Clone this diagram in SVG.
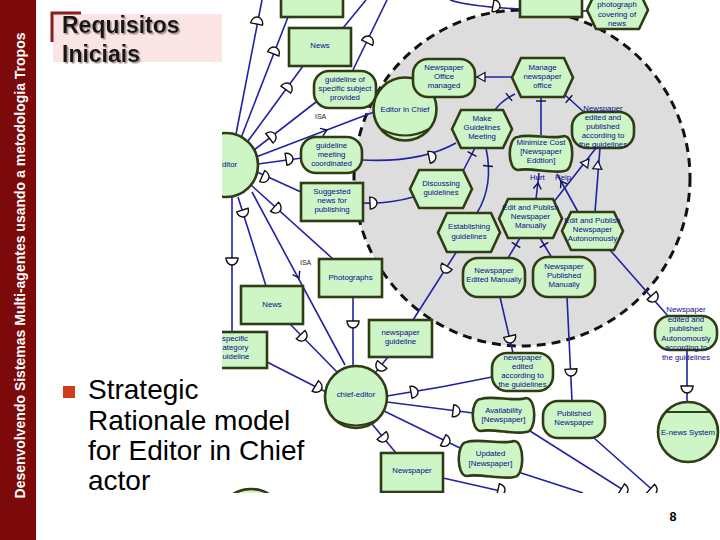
<svg xmlns="http://www.w3.org/2000/svg" width="720" height="540" viewBox="0 0 720 540">
<defs>
<style>
.n{fill:#cdf5c6;stroke:#303c14;stroke-width:2.6}
.t{font-family:"Liberation Sans",Arial,sans-serif;font-size:7.8px;fill:#0b0b8c;text-anchor:middle}
.ts{font-family:"Liberation Sans",Arial,sans-serif;font-size:7.8px;fill:#0b0b8c}
.c{fill:none;stroke:#2121a6;stroke-width:1.6}
.dm{fill:#fff;stroke:#111;stroke-width:1.4}
.tk{fill:none;stroke:#101040;stroke-width:1.4}
.me{fill:#fff;stroke:#101040;stroke-width:1.3}
.ar{fill:none;stroke:#101040;stroke-width:1.4}
.isa{font-family:"Liberation Sans",Arial,sans-serif;font-size:7px;fill:#222}
</style>
<path id="d" d="M-2,-6 L-2,6 A7,6 0 0 0 -2,-6 Z"/>
<path id="k" d="M0,-5 L0,5"/>
<path id="m" d="M0,0 L-8,-4.5 L-8,4.5 Z"/>
<path id="v" d="M-6,-4 L0,0 L-6,4"/>
<clipPath id="clip"><rect x="222" y="0" width="498" height="493"/></clipPath>
<filter id="sh" x="-10%" y="-10%" width="120%" height="130%"><feDropShadow dx="1.5" dy="1.5" stdDeviation="0.4" flood-color="#a09090"/></filter>
</defs>
<rect width="720" height="540" fill="#fff"/>
<g id="sidebar">
<rect x="0" y="0" width="36" height="540" fill="#7d0a0a"/>
<text transform="translate(25,265.5) rotate(-90)" text-anchor="middle" font-family="Liberation Sans, Arial, sans-serif" font-size="14" font-weight="bold" fill="#fff">Desenvolvendo Sistemas Multi-agentes usando a metodologia Tropos</text>
</g>
<g id="title">
<rect x="53" y="14" width="169" height="48" fill="#fbe4e4"/>
<path d="M52,42 V13 H81" fill="none" stroke="#8e1b1b" stroke-width="3"/>
<text x="62" y="33" font-family="Liberation Sans, Arial, sans-serif" font-size="23" font-weight="bold" fill="#151515" filter="url(#sh)"><tspan x="62" y="33">Requisitos</tspan><tspan x="62" y="62">Iniciais</tspan></text>
</g>
<g id="diagram" clip-path="url(#clip)">
<circle id="boundary" cx="522" cy="178" r="168" fill="#dddddd" stroke="#111" stroke-width="3" stroke-dasharray="9 6"/>
<g id="connectors">
<g class="c">
<path d="M236,134 L262,0"/>
<path d="M241,138 L288,17"/>
<path d="M248,141 L303,66"/>
<path d="M254,150 L316,102"/>
<path d="M256,157 L374,112"/>
<path d="M258,164 L302,158"/>
<path d="M257,172 L301,192"/>
<path d="M251,185 L333,259"/>
<path d="M252,192 L345,365"/>
<path d="M238,197 L266,286"/>
<path d="M232,197 L232,332"/>
<path d="M352,72 L387,0"/>
<path d="M343,28 L366,0"/>
<path d="M450,0 Q480,10 588,11"/>
<path d="M362,160 Q420,163 456,143"/>
<path d="M363,203 Q390,204 413,197"/>
<path d="M512,77 L476,77"/>
<path d="M515,94 Q502,100 494,111"/>
<path d="M541,97 L541,135"/>
<path d="M565,95 L585,113"/>
<path d="M475,148 L463,171"/>
<path d="M486,148 Q494,185 477,213"/>
<path d="M536,199 L539,173"/>
<path d="M578,212 L557,174"/>
<path d="M553,203 L596,148"/>
<path d="M595,212 L600,148"/>
<path d="M520,238 L508,258"/>
<path d="M540,238 L552,258"/>
<path d="M610,250 L668,316"/>
<path d="M687,350 L687,402"/>
<path d="M457,251 L413,320"/>
<path d="M353,297 L353,366"/>
<path d="M388,357 L375,373"/>
<path d="M289,323 L337,372"/>
<path d="M267,362 L326,392"/>
<path d="M387,396 Q440,388 492,377"/>
<path d="M387,402 L473,413"/>
<path d="M384,411 L462,449"/>
<path d="M372,424 L396,453"/>
<path d="M500,297 L513,353"/>
<path d="M567,297 L572,401"/>
<path d="M530,431 L628,493"/>
<path d="M594,438 L656,493"/>
<path d="M518,472 L583,493"/>
<path d="M443,478 L505,492"/>
</g>
<g class="dm">
<use href="#d" transform="translate(257,22) rotate(-79)"/>
<use href="#d" transform="translate(274,52) rotate(-69)"/>
<use href="#d" transform="translate(287,88) rotate(-54)"/>
<use href="#d" transform="translate(271,137) rotate(-38)"/>
<use href="#d" transform="translate(288,159) rotate(-9)"/>
<use href="#d" transform="translate(264,177) rotate(24)"/>
<use href="#d" transform="translate(276,208) rotate(42)"/>
<use href="#d" transform="translate(243,212) rotate(72)"/>
<use href="#d" transform="translate(232,260) rotate(90)"/>
<use href="#d" transform="translate(368,41) rotate(-64)"/>
<use href="#d" transform="translate(495,6) rotate(10)"/>
<use href="#d" transform="translate(431,157) rotate(-12)"/>
<use href="#d" transform="translate(372,203) rotate(-3)"/>
<use href="#d" transform="translate(653,297) rotate(49)"/>
<use href="#d" transform="translate(687,388) rotate(90)"/>
<use href="#d" transform="translate(446,268) rotate(122)"/>
<use href="#d" transform="translate(353,323) rotate(90)"/>
<use href="#d" transform="translate(381,366) rotate(129)"/>
<use href="#d" transform="translate(302,336) rotate(46)"/>
<use href="#d" transform="translate(317,387) rotate(31)"/>
<use href="#d" transform="translate(413,392) rotate(-10)"/>
<use href="#d" transform="translate(455,411) rotate(7)"/>
<use href="#d" transform="translate(445,441) rotate(26)"/>
<use href="#d" transform="translate(383,437) rotate(50)"/>
<use href="#d" transform="translate(510,338) rotate(77)"/>
<use href="#d" transform="translate(571,371) rotate(87)"/>
<use href="#d" transform="translate(623,490) rotate(32)"/>
<use href="#d" transform="translate(652,490) rotate(42)"/>
<use href="#d" transform="translate(500,490) rotate(13)"/>
</g>
<g class="tk">
<use href="#k" transform="translate(509,97) rotate(141)"/>
<use href="#k" transform="translate(541,101) rotate(90)"/>
<use href="#k" transform="translate(569,99) rotate(42)"/>
<use href="#k" transform="translate(472,154) rotate(117)"/>
<use href="#k" transform="translate(488,166) rotate(95)"/>
<use href="#k" transform="translate(516,245) rotate(121)"/>
<use href="#k" transform="translate(544,245) rotate(59)"/>
</g>
<g class="me">
<use href="#m" transform="translate(477,77) rotate(180)"/>
<use href="#m" transform="translate(589,159) rotate(-52)"/>
<use href="#m" transform="translate(598,161) rotate(-85)"/>
</g>
<g class="ar">
<use href="#v" transform="translate(538,183) rotate(-83)"/>
<use href="#v" transform="translate(561,181) rotate(-120)"/>
<use href="#v" transform="translate(327,130) rotate(-21)"/>
<use href="#v" transform="translate(299,278) rotate(62)"/>
</g>
<text class="ts" x="530" y="180">Hurt</text>
<text class="ts" x="555" y="180">Help</text>
<text class="isa" x="315" y="119">ISA</text>
<text class="isa" x="300" y="265">ISA</text>
</g>
<g id="nodes">
<g id="n_editor_left"><circle class="n" cx="226" cy="165" r="32"/><text class="ts" x="222" y="167">ditor</text></g>
<g id="n_topbox1"><rect class="n" x="281" y="-20" width="62" height="37"/></g>
<g id="n_topbox2"><rect class="n" x="520" y="-20" width="62" height="37"/></g>
<g id="n_news_top"><rect class="n" x="289" y="28" width="62" height="38"/><text class="t" x="320" y="48">News</text></g>
<g id="n_photo_cov"><polygon class="n" points="587,10 596,-9 639,-9 648,10 639,29 596,29"/><text class="t"><tspan x="617" y="7">photograph</tspan><tspan x="617" y="17">covering of</tspan><tspan x="617" y="26">news</tspan></text></g>
<g id="n_guide_spec"><rect class="n" x="314" y="71" width="62" height="37" rx="15"/><text class="t"><tspan x="345" y="82">guideline of</tspan><tspan x="345" y="91">specific subject</tspan><tspan x="345" y="100">provided</tspan></text></g>
<g id="n_guide_meet"><rect class="n" x="301" y="137" width="61" height="36" rx="15"/><text class="t"><tspan x="331.5" y="148">guideline</tspan><tspan x="331.5" y="157">meeting</tspan><tspan x="331.5" y="166">coordinated</tspan></text></g>
<g id="n_eic"><circle class="n" cx="405" cy="109" r="31.5"/><path d="M381,129 Q405,142 429,129" fill="none" stroke="#303c14" stroke-width="2.2"/><text class="t" x="405" y="112">Editor in Chief</text></g>
<g id="n_office"><rect class="n" x="413" y="59" width="62" height="38" rx="15"/><text class="t"><tspan x="444" y="70">Newspaper</tspan><tspan x="444" y="79">Office</tspan><tspan x="444" y="88">managed</tspan></text></g>
<g id="n_manage"><polygon class="n" points="512,77.5 521,58 564,58 573,77.5 564,97 521,97"/><text class="t"><tspan x="542.5" y="70">Manage</tspan><tspan x="542.5" y="79">newspaper</tspan><tspan x="542.5" y="88">office</tspan></text></g>
<g id="n_make"><polygon class="n" points="452,129 461,110 503,110 512,129 503,148 461,148"/><text class="t"><tspan x="482" y="121">Make</tspan><tspan x="482" y="130">Guidelines</tspan><tspan x="482" y="139">Meeting</tspan></text></g>
<g id="n_mincost"><path class="n" d="M518,137 C528.6,133 553.4,140 564,136 C575,136 575,171 564,171 C553.4,174 528.6,167 518,170 C507,170 507,137 518,137 Z"/><text class="t"><tspan x="541" y="145">Minimize Cost</tspan><tspan x="541" y="154">[Newspaper</tspan><tspan x="541" y="163">Eddtion]</tspan></text></g>
<g id="n_ned_guid"><rect class="n" x="572" y="112" width="62" height="36" rx="15"/><text class="t"><tspan x="603" y="111">Newspaper</tspan><tspan x="603" y="120">edited and</tspan><tspan x="603" y="129">published</tspan><tspan x="603" y="138">according to</tspan><tspan x="603" y="147">the guidelines</tspan></text></g>
<g id="n_disc"><polygon class="n" points="410,189 419,170 463,170 472,189 463,208 419,208"/><text class="t"><tspan x="441" y="186">Discussing</tspan><tspan x="441" y="195">guidelines</tspan></text></g>
<g id="n_estab"><polygon class="n" points="438,232.5 447,213 491,213 500,232.5 491,252 447,252"/><text class="t"><tspan x="469" y="229">Establishing</tspan><tspan x="469" y="239">guidelines</tspan></text></g>
<g id="n_edit_man"><polygon class="n" points="499,218.5 508,199 553,199 562,218.5 553,238 508,238"/><text class="t"><tspan x="530.5" y="210">Edit and Publish</tspan><tspan x="530.5" y="219">Newspaper</tspan><tspan x="530.5" y="228">Manually</tspan></text></g>
<g id="n_edit_auto"><polygon class="n" points="562,231 571,212 614,212 623,231 614,250 571,250"/><text class="t"><tspan x="592.5" y="223">Edit and Publish</tspan><tspan x="592.5" y="232">Newspaper</tspan><tspan x="592.5" y="241">Autonomously</tspan></text></g>
<g id="n_ned_man"><rect class="n" x="463" y="258" width="62" height="39" rx="15"/><text class="t"><tspan x="494" y="273">Newspaper</tspan><tspan x="494" y="282">Edited Manually</tspan></text></g>
<g id="n_npub_man"><rect class="n" x="533" y="257" width="62" height="40" rx="15"/><text class="t"><tspan x="564" y="269">Newspaper</tspan><tspan x="564" y="278">Published</tspan><tspan x="564" y="287">Manually</tspan></text></g>
<g id="n_ned_auto"><rect class="n" x="655" y="316" width="62" height="34" rx="15"/><text class="t"><tspan x="686" y="312">Newspaper</tspan><tspan x="686" y="321.5">edited and</tspan><tspan x="686" y="331">published</tspan><tspan x="686" y="340.5">Autonomously</tspan><tspan x="686" y="350">according to</tspan><tspan x="686" y="359.5">the guidelines</tspan></text></g>
<g id="n_enews"><circle class="n" cx="688" cy="432" r="30"/><path d="M665.6,412 H710.4" stroke="#303c14" stroke-width="2.2"/><text class="t" x="688" y="435">E-news System</text></g>
<g id="n_suggested"><rect class="n" x="301" y="183" width="62" height="38"/><text class="t"><tspan x="332" y="194">Suggested</tspan><tspan x="332" y="203">news for</tspan><tspan x="332" y="212">publishing</tspan></text></g>
<g id="n_photos"><rect class="n" x="319" y="259" width="63" height="38"/><text class="t" x="350.5" y="280">Photographs</text></g>
<g id="n_news_low"><rect class="n" x="241" y="286" width="62" height="38"/><text class="t" x="272" y="307">News</text></g>
<g id="n_spec_cat"><rect class="n" x="205" y="332" width="62" height="36"/><text class="ts"><tspan x="222" y="341">specific</tspan><tspan x="222.5" y="350">ategory</tspan><tspan x="222.5" y="359">uideline</tspan></text></g>
<g id="n_np_guide"><rect class="n" x="369" y="320" width="63" height="37"/><text class="t"><tspan x="400.5" y="335">newspaper</tspan><tspan x="400.5" y="344">guideline</tspan></text></g>
<g id="n_chief"><circle class="n" cx="356" cy="397" r="31"/><path d="M335,420 Q356,431 377,420" fill="none" stroke="#303c14" stroke-width="2.2"/><text class="t" x="356" y="397">chief-editor</text></g>
<g id="n_ned_acc"><rect class="n" x="492" y="353" width="61" height="38" rx="15"/><text class="t"><tspan x="522.5" y="360">newspaper</tspan><tspan x="522.5" y="369">edited</tspan><tspan x="522.5" y="378">according to</tspan><tspan x="522.5" y="387">the guidelines</tspan></text></g>
<g id="n_pubnews"><rect class="n" x="543" y="401" width="62" height="37" rx="15"/><text class="t"><tspan x="574" y="416">Published</tspan><tspan x="574" y="425">Newspaper</tspan></text></g>
<g id="n_avail"><path class="n" d="M481,399 C491.3,395 515.7,402 526,398 C537,398 537,432 526,432 C515.7,435 491.3,428 481,431 C470,431 470,399 481,399 Z"/><text class="t"><tspan x="503.5" y="413">Availability</tspan><tspan x="503.5" y="422">[Newspaper]</tspan></text></g>
<g id="n_updated"><path class="n" d="M467,442 C477.9,438 503.1,445 514,441 C525,441 525,477 514,477 C503.1,480 477.9,473 467,476 C456,476 456,442 467,442 Z"/><text class="t"><tspan x="490.5" y="456">Updated</tspan><tspan x="490.5" y="466">[Newspaper]</tspan></text></g>
<g id="n_newspaper"><rect class="n" x="381" y="453" width="62" height="39"/><text class="t" x="412" y="473">Newspaper</text></g>
<g id="n_bottom"><circle class="n" cx="251" cy="523" r="34"/></g>
</g>
</g>
<g id="bullet">
<rect x="63" y="386" width="12" height="12" fill="#cc3d1a"/>
<text font-family="Liberation Sans, Arial, sans-serif" font-size="28" fill="#000"><tspan x="88" y="399">Strategic</tspan><tspan x="88" y="429.5">Rationale model</tspan><tspan x="88" y="460">for Editor in Chief</tspan><tspan x="88" y="490">actor</tspan></text>
</g>
<text x="673" y="521" text-anchor="middle" font-family="Liberation Sans, Arial, sans-serif" font-size="12.5" font-weight="bold" fill="#000">8</text>
</svg>
